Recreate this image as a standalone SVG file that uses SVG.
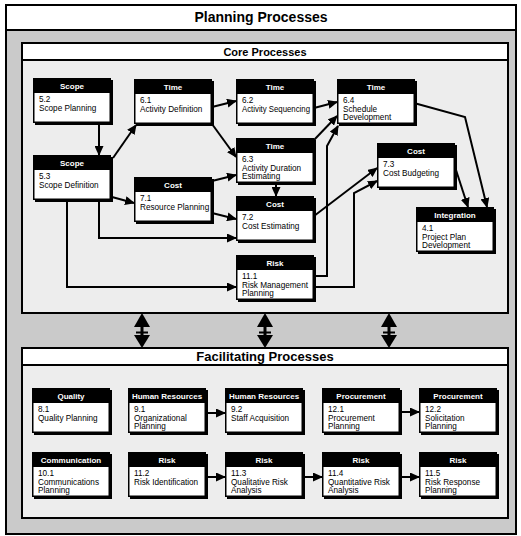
<svg xmlns="http://www.w3.org/2000/svg" width="521" height="536" viewBox="0 0 521 536">
<style>
.frame{fill:#cacaca;stroke:#000;stroke-width:2}
.band{fill:#fff;stroke:#000;stroke-width:2}
.panel{fill:#ededed;stroke:#000;stroke-width:2}
.t1{font-family:"Liberation Sans",Arial,sans-serif;font-weight:bold;font-size:14px;text-anchor:middle;fill:#000}
.t2{font-family:"Liberation Sans",Arial,sans-serif;font-weight:bold;font-size:11px;text-anchor:middle;fill:#000}
.t3{font-family:"Liberation Sans",Arial,sans-serif;font-weight:bold;font-size:13px;text-anchor:middle;fill:#000}
.sh,.bx{fill:#000}
.bd{fill:#fff}
.hd{font-family:"Liberation Sans",Arial,sans-serif;font-weight:bold;font-size:8px;text-anchor:middle;fill:#fff}
.tx{font-family:"Liberation Sans",Arial,sans-serif;font-size:8.2px;fill:#000}
.cn{fill:none;stroke:#000;stroke-width:2;marker-end:url(#ah)}
.big{fill:#000}
</style>
<defs>
<marker id="ah" markerUnits="userSpaceOnUse" markerWidth="10" markerHeight="9" refX="9" refY="4.5" orient="auto">
<path d="M0,0 L10,4.5 L0,9 z" fill="#000"/>
</marker>
</defs>

<!-- outer frame -->
<rect class="frame" x="6" y="5" width="510" height="529"/>
<rect class="band" x="6" y="5" width="510" height="25"/>
<text class="t1" x="261" y="22">Planning Processes</text>

<!-- core panel -->
<rect class="panel" x="22" y="43" width="486" height="270"/>
<rect class="band" x="22" y="43" width="486" height="17"/>
<text class="t2" x="265" y="56">Core Processes</text>

<!-- facilitating panel -->
<rect class="panel" x="22" y="348" width="486" height="170"/>
<rect class="band" x="22" y="348" width="486" height="17"/>
<text class="t3" x="265" y="361">Facilitating Processes</text>

<!-- big double arrows -->
<g id="links-big">
<g class="big" transform="translate(142,0)">
<path d="M0,313 L8,327 L-8,327 z"/><rect x="-1.5" y="326" width="3" height="11"/><rect x="-6" y="331.5" width="12" height="2"/><path d="M-8,335 L8,335 L0,348 z"/>
</g>
<g class="big" transform="translate(265,0)">
<path d="M0,313 L8,327 L-8,327 z"/><rect x="-1.5" y="326" width="3" height="11"/><rect x="-6" y="331.5" width="12" height="2"/><path d="M-8,335 L8,335 L0,348 z"/>
</g>
<g class="big" transform="translate(389,0)">
<path d="M0,313 L8,327 L-8,327 z"/><rect x="-1.5" y="326" width="3" height="11"/><rect x="-6" y="331.5" width="12" height="2"/><path d="M-8,335 L8,335 L0,348 z"/>
</g>
</g>

<!-- connectors -->
<g id="connectors">
<path class="cn" d="M99,124 L99,155"/>
<path class="cn" d="M113,158 L136,125"/>
<path class="cn" d="M212,107 L236,101"/>
<path class="cn" d="M212,124 L236,157"/>
<path class="cn" d="M212,181 L236,175"/>
<path class="cn" d="M314,108 L337,102"/>
<path class="cn" d="M314,140 L337,116"/>
<path class="cn" d="M315,276 L327,276 L327,146 L338,126"/>
<path class="cn" d="M314,216 L377,168"/>
<path class="cn" d="M315,287 L354,287 L354,193 L377,181"/>
<path class="cn" d="M276,184 L276,196"/>
<path class="cn" d="M212,213 L236,219"/>
<path class="cn" d="M112,197 L134,203"/>
<path class="cn" d="M99,201 L99,238 L236,238"/>
<path class="cn" d="M67,201 L67,287 L236,287"/>
<path class="cn" d="M414,103 L465,117 L487,207"/>
<path class="cn" d="M456,170 L468,207"/>
<path class="cn" d="M207,413 L225,413"/>
<path class="cn" d="M401,412 L419,412"/>
<path class="cn" d="M207,477 L225,477"/>
<path class="cn" d="M304,477 L322,477"/>
<path class="cn" d="M401,477 L419,477"/>
</g>

<!-- core nodes -->
<g id="n5_2" transform="translate(33,78)">
<rect class="sh" x="2" y="2" width="78" height="45"/><rect class="bx" width="78" height="45"/><rect class="bd" x="1.5" y="15" width="75" height="28.5"/>
<text class="hd" x="39" y="10.5">Scope</text><text class="tx" x="6" y="24">5.2</text><text class="tx" x="6" y="32.5">Scope Planning</text>
</g>
<g id="n5_3" transform="translate(33,155)">
<rect class="sh" x="2" y="2" width="78" height="45"/><rect class="bx" width="78" height="45"/><rect class="bd" x="1.5" y="15" width="75" height="28.5"/>
<text class="hd" x="39" y="10.5">Scope</text><text class="tx" x="6" y="24">5.3</text><text class="tx" x="6" y="32.5">Scope Definition</text>
</g>
<g id="n6_1" transform="translate(134,79)">
<rect class="sh" x="2" y="2" width="78" height="45"/><rect class="bx" width="78" height="45"/><rect class="bd" x="1.5" y="15" width="75" height="28.5"/>
<text class="hd" x="39" y="10.5">Time</text><text class="tx" x="6" y="24">6.1</text><text class="tx" x="6" y="32.5">Activity Definition</text>
</g>
<g id="n6_2" transform="translate(236,79)">
<rect class="sh" x="2" y="2" width="78" height="45"/><rect class="bx" width="78" height="45"/><rect class="bd" x="1.5" y="15" width="75" height="28.5"/>
<text class="hd" x="39" y="10.5">Time</text><text class="tx" x="6" y="24">6.2</text><text class="tx" x="6" y="32.5" textLength="68" lengthAdjust="spacingAndGlyphs">Activity Sequencing</text>
</g>
<g id="n6_4" transform="translate(337,79)">
<rect class="sh" x="2" y="2" width="78" height="45"/><rect class="bx" width="78" height="45"/><rect class="bd" x="1.5" y="15" width="75" height="28.5"/>
<text class="hd" x="39" y="10.5">Time</text><text class="tx" x="6" y="24">6.4</text><text class="tx" x="6" y="32.5">Schedule</text><text class="tx" x="6" y="41">Development</text>
</g>
<g id="n6_3" transform="translate(236,138)">
<rect class="sh" x="2" y="2" width="78" height="45"/><rect class="bx" width="78" height="45"/><rect class="bd" x="1.5" y="15" width="75" height="28.5"/>
<text class="hd" x="39" y="10.5">Time</text><text class="tx" x="6" y="24">6.3</text><text class="tx" x="6" y="32.5">Activity Duration</text><text class="tx" x="6" y="41">Estimating</text>
</g>
<g id="n7_3" transform="translate(377,143)">
<rect class="sh" x="2" y="2" width="78" height="45"/><rect class="bx" width="78" height="45"/><rect class="bd" x="1.5" y="15" width="75" height="28.5"/>
<text class="hd" x="39" y="10.5">Cost</text><text class="tx" x="6" y="24">7.3</text><text class="tx" x="6" y="32.5">Cost Budgeting</text>
</g>
<g id="n7_1" transform="translate(134,177)">
<rect class="sh" x="2" y="2" width="78" height="45"/><rect class="bx" width="78" height="45"/><rect class="bd" x="1.5" y="15" width="75" height="28.5"/>
<text class="hd" x="39" y="10.5">Cost</text><text class="tx" x="6" y="24">7.1</text><text class="tx" x="6" y="32.5">Resource Planning</text>
</g>
<g id="n7_2" transform="translate(236,196)">
<rect class="sh" x="2" y="2" width="78" height="45"/><rect class="bx" width="78" height="45"/><rect class="bd" x="1.5" y="15" width="75" height="28.5"/>
<text class="hd" x="39" y="10.5">Cost</text><text class="tx" x="6" y="24">7.2</text><text class="tx" x="6" y="32.5">Cost Estimating</text>
</g>
<g id="n11_1" transform="translate(236,255)">
<rect class="sh" x="2" y="2" width="78" height="45"/><rect class="bx" width="78" height="45"/><rect class="bd" x="1.5" y="15" width="75" height="28.5"/>
<text class="hd" x="39" y="10.5">Risk</text><text class="tx" x="6" y="24">11.1</text><text class="tx" x="6" y="32.5">Risk Management</text><text class="tx" x="6" y="41">Planning</text>
</g>
<g id="n4_1" transform="translate(416,207)">
<rect class="sh" x="2" y="2" width="78" height="45"/><rect class="bx" width="78" height="45"/><rect class="bd" x="1.5" y="15" width="75" height="28.5"/>
<text class="hd" x="39" y="10.5">Integration</text><text class="tx" x="6" y="24">4.1</text><text class="tx" x="6" y="32.5">Project Plan</text><text class="tx" x="6" y="41">Development</text>
</g>

<!-- facilitating nodes -->
<g id="n8_1" transform="translate(32,388)">
<rect class="sh" x="2" y="2" width="78" height="45"/><rect class="bx" width="78" height="45"/><rect class="bd" x="1.5" y="15" width="75" height="28.5"/>
<text class="hd" x="39" y="10.5">Quality</text><text class="tx" x="6" y="24">8.1</text><text class="tx" x="6" y="32.5">Quality Planning</text>
</g>
<g id="n9_1" transform="translate(128,388)">
<rect class="sh" x="2" y="2" width="78" height="45"/><rect class="bx" width="78" height="45"/><rect class="bd" x="1.5" y="15" width="75" height="28.5"/>
<text class="hd" x="39" y="10.5">Human Resources</text><text class="tx" x="6" y="24">9.1</text><text class="tx" x="6" y="32.5">Organizational</text><text class="tx" x="6" y="41">Planning</text>
</g>
<g id="n9_2" transform="translate(225,388)">
<rect class="sh" x="2" y="2" width="78" height="45"/><rect class="bx" width="78" height="45"/><rect class="bd" x="1.5" y="15" width="75" height="28.5"/>
<text class="hd" x="39" y="10.5">Human Resources</text><text class="tx" x="6" y="24">9.2</text><text class="tx" x="6" y="32.5">Staff Acquisition</text>
</g>
<g id="n12_1" transform="translate(322,388)">
<rect class="sh" x="2" y="2" width="78" height="45"/><rect class="bx" width="78" height="45"/><rect class="bd" x="1.5" y="15" width="75" height="28.5"/>
<text class="hd" x="39" y="10.5">Procurement</text><text class="tx" x="6" y="24">12.1</text><text class="tx" x="6" y="32.5">Procurement</text><text class="tx" x="6" y="41">Planning</text>
</g>
<g id="n12_2" transform="translate(419,388)">
<rect class="sh" x="2" y="2" width="78" height="45"/><rect class="bx" width="78" height="45"/><rect class="bd" x="1.5" y="15" width="75" height="28.5"/>
<text class="hd" x="39" y="10.5">Procurement</text><text class="tx" x="6" y="24">12.2</text><text class="tx" x="6" y="32.5">Solicitation</text><text class="tx" x="6" y="41">Planning</text>
</g>
<g id="n10_1" transform="translate(32,452)">
<rect class="sh" x="2" y="2" width="78" height="45"/><rect class="bx" width="78" height="45"/><rect class="bd" x="1.5" y="15" width="75" height="28.5"/>
<text class="hd" x="39" y="10.5">Communication</text><text class="tx" x="6" y="24">10.1</text><text class="tx" x="6" y="32.5">Communications</text><text class="tx" x="6" y="41">Planning</text>
</g>
<g id="n11_2" transform="translate(128,452)">
<rect class="sh" x="2" y="2" width="78" height="45"/><rect class="bx" width="78" height="45"/><rect class="bd" x="1.5" y="15" width="75" height="28.5"/>
<text class="hd" x="39" y="10.5">Risk</text><text class="tx" x="6" y="24">11.2</text><text class="tx" x="6" y="32.5">Risk Identification</text>
</g>
<g id="n11_3" transform="translate(225,452)">
<rect class="sh" x="2" y="2" width="78" height="45"/><rect class="bx" width="78" height="45"/><rect class="bd" x="1.5" y="15" width="75" height="28.5"/>
<text class="hd" x="39" y="10.5">Risk</text><text class="tx" x="6" y="24">11.3</text><text class="tx" x="6" y="32.5">Qualitative Risk</text><text class="tx" x="6" y="41">Analysis</text>
</g>
<g id="n11_4" transform="translate(322,452)">
<rect class="sh" x="2" y="2" width="78" height="45"/><rect class="bx" width="78" height="45"/><rect class="bd" x="1.5" y="15" width="75" height="28.5"/>
<text class="hd" x="39" y="10.5">Risk</text><text class="tx" x="6" y="24">11.4</text><text class="tx" x="6" y="32.5">Quantitative Risk</text><text class="tx" x="6" y="41">Analysis</text>
</g>
<g id="n11_5" transform="translate(419,452)">
<rect class="sh" x="2" y="2" width="78" height="45"/><rect class="bx" width="78" height="45"/><rect class="bd" x="1.5" y="15" width="75" height="28.5"/>
<text class="hd" x="39" y="10.5">Risk</text><text class="tx" x="6" y="24">11.5</text><text class="tx" x="6" y="32.5">Risk Response</text><text class="tx" x="6" y="41">Planning</text>
</g>
</svg>
